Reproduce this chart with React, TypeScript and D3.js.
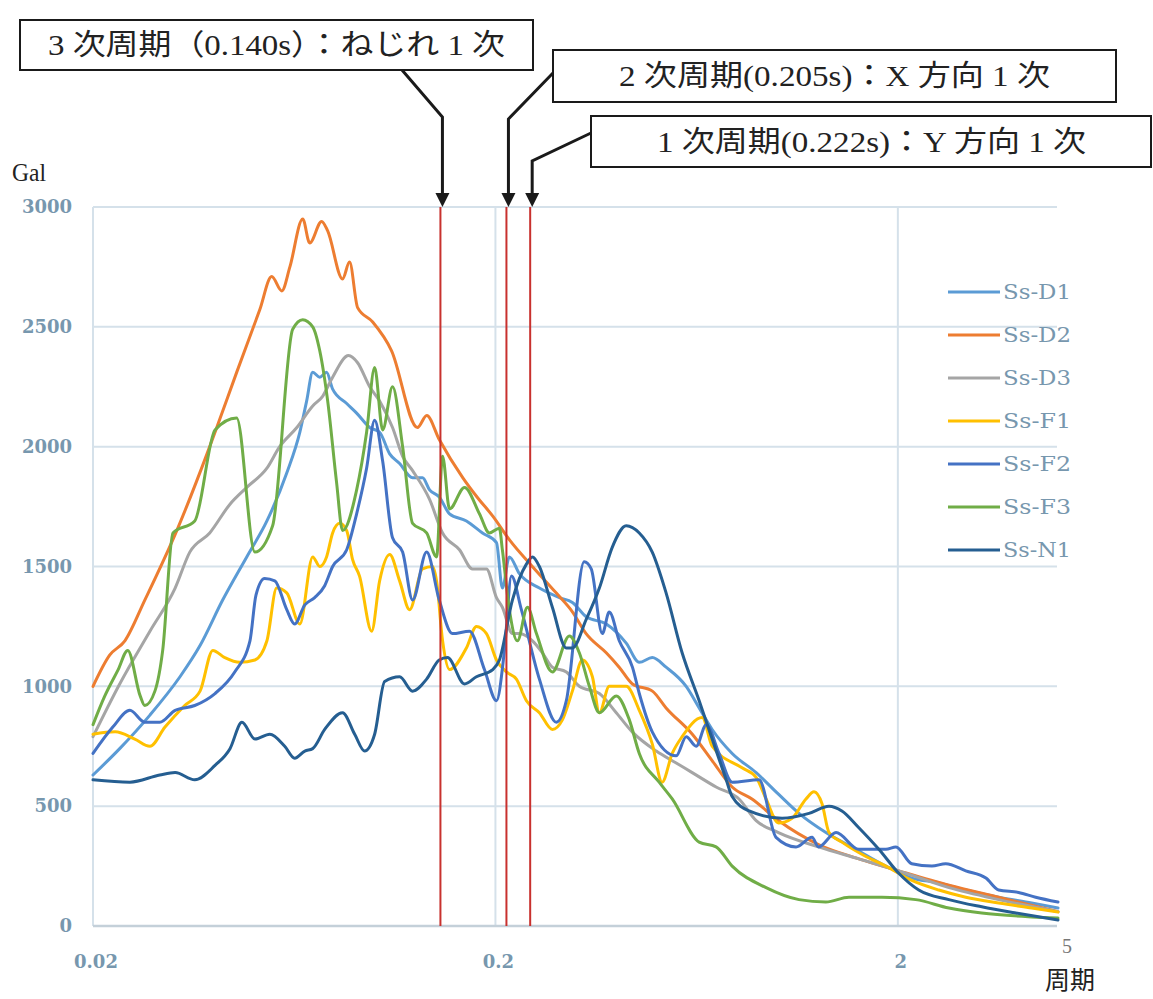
import React from 'react';
import * as d3 from 'd3';

// response spectra: [period (s), acceleration (Gal)]
const ssD1: [number, number][] = [[0.02,630],[0.0233,740],[0.0277,880],[0.0329,1040],[0.0369,1170],[0.042,1360],[0.0482,1540],[0.0541,1690],[0.0606,1890],[0.0653,2060],[0.0679,2190],[0.0703,2310],[0.0732,2290],[0.0761,2310],[0.0788,2240],[0.0854,2180],[0.0904,2140],[0.0974,2080],[0.1031,2060],[0.1092,1970],[0.1156,1930],[0.1245,1870],[0.1318,1870],[0.1372,1820],[0.145,1790],[0.1538,1720],[0.1694,1690],[0.1857,1640],[0.2012,1600],[0.2081,1410],[0.2166,1540],[0.2294,1470],[0.2572,1410],[0.2884,1370],[0.3106,1350],[0.3364,1290],[0.3772,1260],[0.4227,1180],[0.4555,1100],[0.4906,1120],[0.531,1080],[0.5957,1000],[0.6417,910],[0.6912,820],[0.775,720],[0.889,640],[1.01,550],[1.136,470],[1.325,390],[1.573,320],[1.868,250],[2.166,200],[2.528,180],[2.95,150],[3.56,120],[4.3,96],[5,75]];

const ssD2: [number, number][] = [[0.02,1000],[0.022,1130],[0.024,1190],[0.0269,1360],[0.0323,1650],[0.0384,1970],[0.0406,2080],[0.0455,2310],[0.0519,2570],[0.0556,2710],[0.0589,2650],[0.0617,2750],[0.0664,2950],[0.0691,2850],[0.074,2940],[0.0766,2900],[0.0834,2700],[0.0868,2770],[0.0909,2580],[0.0991,2520],[0.1104,2400],[0.128,2080],[0.135,2130],[0.145,2030],[0.166,1870],[0.18,1790],[0.197,1710],[0.217,1610],[0.247,1500],[0.283,1390],[0.311,1310],[0.336,1220],[0.377,1140],[0.406,1080],[0.438,1010],[0.491,980],[0.531,910],[0.617,800],[0.691,690],[0.775,580],[0.868,530],[1.01,440],[1.27,340],[1.6,280],[2.01,230],[2.68,170],[3.56,120],[5,60]];

const ssD3: [number, number][] = [[0.02,790],[0.0233,1010],[0.0277,1230],[0.032,1410],[0.0348,1560],[0.039,1640],[0.0438,1760],[0.0482,1830],[0.0541,1910],[0.0582,2000],[0.0642,2080],[0.0703,2170],[0.0744,2210],[0.0788,2290],[0.0863,2380],[0.0909,2350],[0.0974,2250],[0.1031,2190],[0.111,2080],[0.1176,1960],[0.1245,1900],[0.1372,1780],[0.1478,1640],[0.1628,1570],[0.1754,1490],[0.19,1490],[0.2012,1370],[0.2081,1330],[0.2204,1220],[0.2294,1220],[0.2472,1190],[0.2617,1140],[0.277,1080],[0.3001,1060],[0.3232,1000],[0.3625,970],[0.3993,890],[0.4375,810],[0.502,730],[0.5627,680],[0.6166,640],[0.707,580],[0.806,530],[0.889,440],[1.01,390],[1.27,330],[1.6,280],[2.01,230],[2.68,160],[3.56,110],[5,60]];

const ssF1: [number, number][] = [[0.02,800],[0.0227,810],[0.0254,780],[0.0277,750],[0.0302,830],[0.0338,920],[0.0369,980],[0.0397,1150],[0.0425,1120],[0.0463,1100],[0.0505,1110],[0.0541,1190],[0.0572,1410],[0.0606,1390],[0.0653,1260],[0.0703,1540],[0.0732,1500],[0.0761,1540],[0.0788,1640],[0.082,1680],[0.0854,1650],[0.0883,1530],[0.0919,1460],[0.0985,1230],[0.1031,1440],[0.1092,1550],[0.1156,1440],[0.1224,1320],[0.1318,1490],[0.1396,1500],[0.1428,1440],[0.1478,1190],[0.1538,1070],[0.1694,1160],[0.1794,1250],[0.19,1220],[0.2012,1110],[0.213,1060],[0.2255,1030],[0.2388,940],[0.2572,890],[0.277,820],[0.2934,860],[0.3106,980],[0.3288,1110],[0.3483,1040],[0.3625,890],[0.3836,1000],[0.4228,1000],[0.4555,900],[0.4906,760],[0.519,600],[0.55,720],[0.582,790],[0.653,870],[0.6912,750],[0.82,660],[0.889,620],[0.941,530],[1.01,430],[1.092,450],[1.182,530],[1.238,560],[1.296,510],[1.349,390],[1.452,350],[1.666,290],[1.868,250],[2.166,190],[2.528,150],[2.95,120],[3.56,96],[4.3,75],[5,58]];

const ssF2: [number, number][] = [[0.02,720],[0.0224,830],[0.0247,900],[0.0269,850],[0.0293,850],[0.032,900],[0.0358,920],[0.0402,970],[0.045,1060],[0.0491,1190],[0.0508,1380],[0.0534,1450],[0.0566,1440],[0.0606,1320],[0.0634,1260],[0.0672,1340],[0.0711,1370],[0.0753,1420],[0.0788,1500],[0.0854,1570],[0.0904,1720],[0.0957,1910],[0.1002,2110],[0.1049,1940],[0.111,1620],[0.1176,1560],[0.1245,1360],[0.1349,1560],[0.145,1360],[0.1564,1220],[0.1724,1230],[0.1878,1070],[0.2012,940],[0.2106,1150],[0.2192,1460],[0.232,1320],[0.2572,1030],[0.2834,850],[0.3001,940],[0.3324,1520],[0.346,1490],[0.3686,1220],[0.3836,1310],[0.4062,1190],[0.438,1080],[0.4555,970],[0.4906,810],[0.5627,710],[0.5957,790],[0.6306,750],[0.668,840],[0.719,720],[0.775,600],[0.904,610],[0.996,370],[1.117,330],[1.224,370],[1.27,330],[1.404,390],[1.6,320],[1.868,320],[1.978,330],[2.166,260],[2.43,250],[2.63,260],[2.95,230],[3.31,200],[3.56,150],[3.99,140],[4.4,120],[5,100]];

const ssF3: [number, number][] = [[0.02,840],[0.0214,960],[0.0231,1070],[0.0244,1150],[0.0262,960],[0.0269,920],[0.0285,980],[0.0298,1150],[0.0316,1640],[0.0358,1690],[0.0402,2070],[0.0455,2120],[0.0505,1560],[0.0559,1670],[0.0627,2490],[0.0664,2530],[0.0703,2500],[0.0732,2400],[0.0766,2190],[0.0806,1850],[0.0834,1650],[0.0904,1820],[0.0957,2060],[0.1002,2330],[0.1049,2070],[0.111,2250],[0.1176,2000],[0.1245,1680],[0.1349,1640],[0.1428,1540],[0.1478,1960],[0.1538,1740],[0.1676,1830],[0.1825,1720],[0.1933,1640],[0.2046,1660],[0.2081,1570],[0.2166,1320],[0.2268,1190],[0.2402,1330],[0.2529,1220],[0.277,1060],[0.3053,1210],[0.3232,1140],[0.3423,1000],[0.3625,890],[0.3993,960],[0.4303,860],[0.4555,720],[0.5104,600],[0.55,530],[0.6417,350],[0.707,330],[0.775,250],[0.941,160],[1.136,110],[1.325,100],[1.512,120],[1.825,120],[2.216,110],[2.678,75],[3.232,54],[4.3,38],[5,33]];

const ssN1: [number, number][] = [[0.02,610],[0.0247,600],[0.0293,630],[0.032,640],[0.0358,610],[0.0402,670],[0.0438,740],[0.0469,850],[0.0505,780],[0.055,800],[0.0599,750],[0.0634,700],[0.0672,730],[0.0703,740],[0.0753,820],[0.0834,890],[0.0894,800],[0.0946,730],[0.1002,800],[0.1061,1020],[0.1156,1040],[0.1245,980],[0.1349,1030],[0.145,1110],[0.152,1120],[0.1676,1010],[0.1794,1040],[0.197,1070],[0.2046,1110],[0.2204,1360],[0.2388,1510],[0.2472,1540],[0.2572,1500],[0.277,1330],[0.3001,1160],[0.3106,1160],[0.3364,1280],[0.3625,1410],[0.3902,1580],[0.4228,1670],[0.4555,1640],[0.4906,1560],[0.531,1390],[0.582,1140],[0.6417,940],[0.6912,780],[0.749,610],[0.775,540],[0.854,480],[1.031,450],[1.203,470],[1.349,500],[1.452,480],[1.6,410],[1.794,320],[2.01,220],[2.254,150],[2.678,110],[3.232,80],[3.93,54],[5,25]];

const seriesNames = ['Ss-D1', 'Ss-D2', 'Ss-D3', 'Ss-F1', 'Ss-F2', 'Ss-F3', 'Ss-N1'];
const seriesData = [ssD1, ssD2, ssD3, ssF1, ssF2, ssF3, ssN1];
const seriesColors = ['#5b9bd5', '#ed7d31', '#a5a5a5', '#ffc000', '#4472c4', '#70ad47', '#255e91'];

const yTicks = [0, 500, 1000, 1500, 2000, 2500, 3000];
const xTicks = [0.02, 0.2, 2];
const xTickLabels = ['0.02', '0.2', '2'];

// natural modes: label text, and where the red line sits on the period axis
const modeLabels = ['3 次周期（0.140s）：ねじれ 1 次', '2 次周期(0.205s)：X 方向 1 次', '1 次周期(0.222s)：Y 方向 1 次'];
const modeLineAt = [0.146, 0.213, 0.244];

const W = 1153;
const H = 999;

const App = () => {
  const x = d3.scaleLog().domain([0.02, 5]).range([93, 1058]);
  const y = d3.scaleLinear().domain([0, 3000]).range([926, 207]);
  const line = d3.line<[number, number]>()
    .x(d => x(d[0]))
    .y(d => y(d[1]))
    .curve(d3.curveMonotoneX);

  const gridColor = '#d5e1ea';
  const tickColor = '#7797ae';
  const serif = "'DejaVu Serif', serif";
  const jp = "'Liberation Serif', 'Noto Sans CJK JP', serif";

  // annotation boxes, text span, and arrow bend points
  const boxes = [
    { x: 20, y: 20, w: 513, h: 50, tx: 48, tw: 457 },
    { x: 553, y: 50, w: 563, h: 52, tx: 619, tw: 431 },
    { x: 591, y: 116, w: 560, h: 51, tx: 657, tw: 429 },
  ];
  const lx = modeLineAt.map(p => x(p));
  const arrows = [
    [[402, 70], [lx[0] + 2, 117], [lx[0] + 2, 193]],
    [[553, 73], [lx[1] + 2, 119], [lx[1] + 2, 193]],
    [[591, 133], [lx[2] + 2, 161], [lx[2] + 2, 193]],
  ];

  return (
    <div style={{ position: 'fixed', left: 0, top: 0, background: '#fff' }}>
      <svg width={W} height={H} viewBox={`0 0 ${W} ${H}`}>
        <rect width={W} height={H} fill="#fff" />

        {/* grid */}
        {yTicks.filter(t => t > 0).map(t => (
          <line key={'gy' + t} x1={93} x2={1057} y1={y(t)} y2={y(t)} stroke={gridColor} strokeWidth={2} />
        ))}
        {xTicks.filter(t => t > 0.02).map(t => (
          <line key={'gx' + t} x1={x(t)} x2={x(t)} y1={y(3000)} y2={y(0)} stroke={gridColor} strokeWidth={2} />
        ))}
        <line x1={93} x2={93} y1={y(3000)} y2={y(0)} stroke={gridColor} strokeWidth={2} />
        <line x1={93} x2={1057} y1={y(0)} y2={y(0)} stroke="#c4d0d9" strokeWidth={2.5} />

        {/* tick labels */}
        {yTicks.map(t => (
          <text key={'ty' + t} x={72} y={y(t)} dy="0.35em" textAnchor="end" fontFamily={serif}
            fontSize={18} fontWeight="bold" fill={tickColor}>{t}</text>
        ))}
        {xTicks.map((t, i) => (
          <text key={'tx' + t} x={x(t) + 3} y={968} textAnchor="middle" fontFamily={serif}
            fontSize={18} fontWeight="bold" fill={tickColor}>{xTickLabels[i]}</text>
        ))}

        {/* series */}
        {seriesData.map((s, i) => (
          <path key={seriesNames[i]} d={line(s) || ''} fill="none" stroke={seriesColors[i]}
            strokeWidth={3} strokeLinejoin="round" strokeLinecap="round" />
        ))}

        {/* legend */}
        {seriesNames.map((n, i) => (
          <g key={'lg' + n} transform={`translate(948, ${292 + i * 43})`}>
            <line x1={0} x2={52} y1={0} y2={0} stroke={seriesColors[i]} strokeWidth={3} />
            <text x={55} y={0} dy="0.36em" fontFamily={serif} fontSize={20} fill={tickColor}
              textLength={68} lengthAdjust="spacingAndGlyphs">{n}</text>
          </g>
        ))}

        {/* red mode lines */}
        {lx.map((v, i) => (
          <line key={'ml' + i} x1={v} x2={v} y1={y(3000)} y2={y(0)} stroke="#c8312e" strokeWidth={2} />
        ))}

        {/* annotations */}
        {boxes.map((b, i) => (
          <g key={'bx' + i}>
            <rect x={b.x} y={b.y} width={b.w} height={b.h} fill="#fff" stroke="#1a1a1a" strokeWidth={2} />
            <text x={b.tx} y={b.y + b.h / 2} dy="0.36em" fontFamily={jp} fontSize={29} fill="#222"
              textLength={b.tw} lengthAdjust="spacingAndGlyphs">{modeLabels[i]}</text>
          </g>
        ))}
        {arrows.map((a, i) => {
          const tip = a[2];
          return (
            <g key={'ar' + i}>
              <polyline points={a.map(p => p.join(',')).join(' ')} fill="none" stroke="#1a1a1a" strokeWidth={3} />
              <path d={`M${tip[0] - 7},${tip[1]} L${tip[0] + 7},${tip[1]} L${tip[0]},${y(3000)} Z`} fill="#1a1a1a" />
            </g>
          );
        })}

        {/* axis titles */}
        <text x={12} y={181} fontFamily="'Liberation Serif', serif" fontSize={26} fill="#222"
          textLength={34} lengthAdjust="spacingAndGlyphs">Gal</text>
        <text x={1067} y={953} textAnchor="middle" fontFamily="'Liberation Serif', serif" fontSize={20} fill="#777">5</text>
        <text x={1045} y={989} fontFamily="'Noto Sans CJK JP', sans-serif" fontSize={25} fill="#222">周期</text>
      </svg>
    </div>
  );
};

export default App;
